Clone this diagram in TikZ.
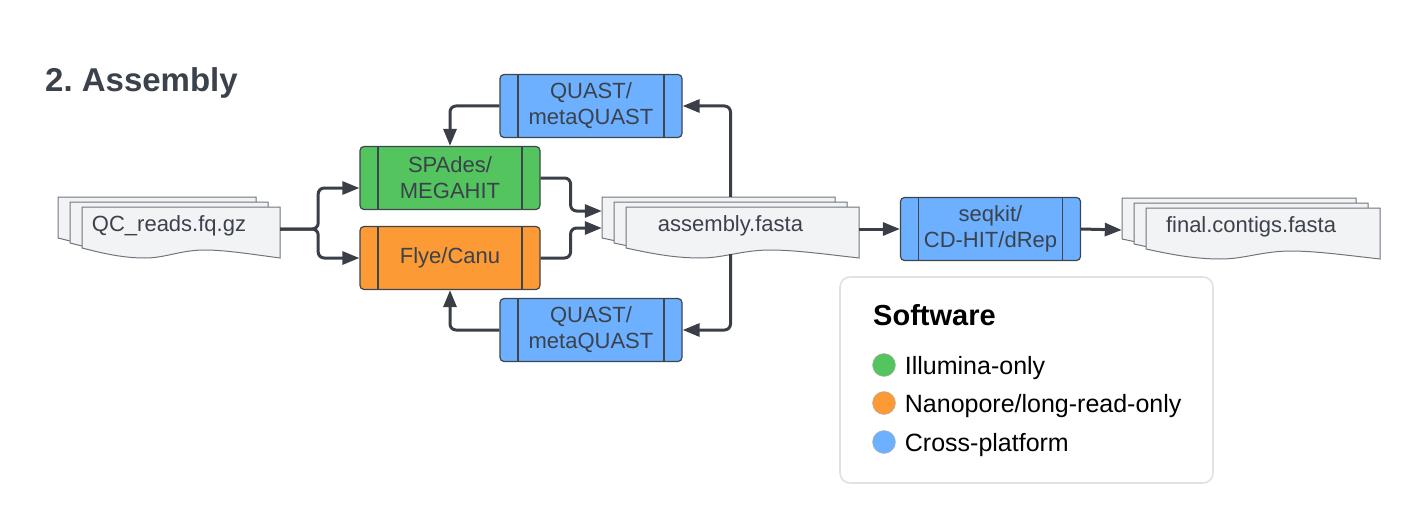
\documentclass[tikz,border=0pt]{standalone}
\usepackage{fontspec}
\setmainfont{Liberation Sans}
\usetikzlibrary{shapes,arrows.meta,positioning,calc}
\definecolor{ink}{HTML}{3B424C}
\definecolor{wire}{HTML}{3A3F47}
\definecolor{boxline}{HTML}{40454D}
\definecolor{illumina}{HTML}{54C45E}
\definecolor{nanopore}{HTML}{FC9A35}
\definecolor{crossplat}{HTML}{6CB0FF}
\definecolor{paper}{HTML}{F2F3F5}
\definecolor{paperline}{HTML}{70757D}
\definecolor{legendline}{HTML}{DEE1E6}
\tikzset{
tool/.style = {draw=boxline, line width=1.2pt, rectangle, rounded corners=4pt, minimum width=180pt, minimum height=63pt, inner sep=0pt, align=center, text=ink, font=\fontsize{22}{26}\selectfont,
  path picture={\draw[boxline, line width=1.2pt] ([xshift=18pt]path picture bounding box.north west) -- ([xshift=18pt]path picture bounding box.south west) ([xshift=-18pt]path picture bounding box.north east) -- ([xshift=-18pt]path picture bounding box.south east);}},
docs/.style = {rectangle, inner sep=0pt, text height=24pt, text depth=20pt, text=ink, font=\fontsize{22}{26}\selectfont},
page/.style = {draw=paperline, fill=paper, line width=1pt},
flow/.style = {draw=wire, line width=3pt, rounded corners=6pt},
legendbox/.style = {draw=legendline, line width=1.6pt, fill=white, rounded corners=10pt, minimum width=373pt, minimum height=206pt},
dot/.style = {draw=black!30, circle, minimum size=23pt, inner sep=0pt},
legtext/.style = {inner sep=0pt, text height=18pt, text depth=0pt, font=\fontsize{25}{30}\selectfont},
heading/.style = {font=\fontsize{33}{40}\selectfont\bfseries, text=ink, inner sep=0pt}
}
% stack of three pages: name, left, top, width of the front page, text
\newcommand{\stack}[5]{%
  \foreach \k in {2,1,0}{
    \pgfmathsetmacro\px{#2-12*\k}
    \pgfmathsetmacro\py{#3-5*\k}
    \draw[page] (\px,\py+41) -- (\px,\py) -- (\px+#4,\py) -- (\px+#4,\py+51)
      .. controls (\px+0.85*#4,\py+47) and (\px+0.72*#4,\py+43) .. (\px+0.62*#4,\py+43)
      .. controls (\px+0.5*#4,\py+43) and (\px+0.42*#4,\py+51) .. (\px+0.32*#4,\py+51)
      .. controls (\px+0.2*#4,\py+51) and (\px+0.1*#4,\py+46) .. (\px,\py+41) -- cycle;
  }
  \node[docs, minimum width=#4pt+24pt] (#1) at (#2+#4/2-12,#3+22) {#5};
}
\begin{document}
\begin{tikzpicture}[x=1pt, y=-1pt, >={Triangle[length=17pt,width=13pt]}]
    \useasboundingbox (0,0) rectangle (1420,524);
    \node [heading, anchor=base west] (title) at (45,92) {2.\ Assembly};

    \stack{qc}{82}{207}{198}{QC\_reads.fq.gz}
    \node [tool, fill=illumina] (spades) at (450,178) {SPAdes/\\MEGAHIT};
    \node [tool, fill=nanopore, below of = spades, node distance = 80pt] (flye) {Flye/Canu};
    \node [tool, fill=crossplat, minimum width=182pt] (qtop) at (591,106) {QUAST/\\metaQUAST};
    \node [tool, fill=crossplat, minimum width=182pt, below of = qtop, node distance = 224pt] (qbot) {QUAST/\\metaQUAST};
    \stack{asm}{626}{207}{233}{assembly.fasta}
    \node [tool, fill=crossplat, right of = asm, node distance = 260pt] (seqkit) {seqkit/\\CD-HIT/dRep};
    \stack{fin}{1146}{208}{234}{final.contigs.fasta}

    \draw [flow, ->] (qc.east) -- ++(38,0) |- ([yshift=-10pt]spades.west);
    \draw [flow, ->] (qc.east) -- ++(38,0) |- (flye.west);
    \draw [flow, ->] (qtop.west) -| (spades.north);
    \draw [flow, ->] (qbot.west) -| (flye.south);
    \draw [flow, ->] (spades.east) -- ++(30,0) |- ([yshift=18pt]asm.west);
    \draw [flow, ->] (flye.east) -- ++(30,0) |- ([yshift=1pt]asm.west);
    \draw [flow, ->] ([yshift=10pt]asm.north) |- (qtop.east);
    \draw [flow, ->] ([yshift=-3pt]asm.south) |- (qbot.east);
    \draw [flow, ->] (asm.east) -- (seqkit.west);
    \draw [flow, ->] (seqkit.east) -- (fin.west);

    \node [legendbox] (legend) at (1026.5,380) {};
    \node [anchor=base west, inner sep=0pt, font=\fontsize{29}{34}\selectfont\bfseries] (software) at (873,325) {Software};
    \node [dot, fill=illumina] (dotill) at (884,365) {};
    \node [dot, fill=nanopore] (dotnano) at (884,403) {};
    \node [dot, fill=crossplat] (dotcross) at (884,442) {};
    \node [legtext, right = 9pt of dotill] (txtill) {Illumina-only};
    \node [legtext, right = 9pt of dotnano] (txtnano) {Nanopore/long-read-only};
    \node [legtext, right = 9pt of dotcross] (txtcross) {Cross-platform};
\end{tikzpicture}
\end{document}
